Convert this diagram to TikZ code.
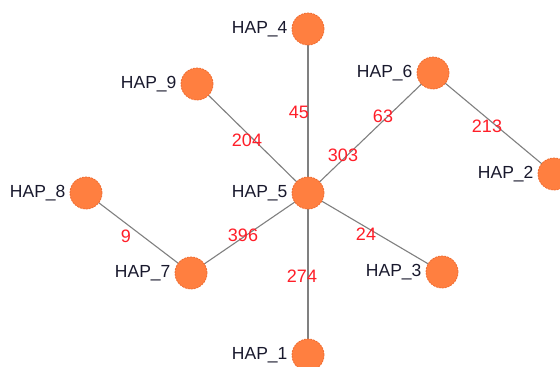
\documentclass[tikz,border=0pt]{standalone}
\usepackage{fontspec}
\setmainfont{Liberation Sans}
\definecolor{hapfill}{RGB}{255,127,64}
\definecolor{hapedge}{RGB}{240,108,48}
\definecolor{linkgray}{RGB}{128,128,128}
\definecolor{txtdark}{RGB}{25,25,45}
\definecolor{wred}{RGB}{255,30,40}
\tikzset{
  hap/.style={circle, minimum size=32pt, inner sep=0pt, fill=hapfill,
    draw=hapedge, line width=0.8pt, dash pattern=on 2pt off 1pt,
    label={[label distance=4pt, inner sep=0pt, text=txtdark,
      font=\fontsize{17.5}{20}\selectfont]left:#1}},
  link/.style={draw=linkgray, line width=1.1pt},
  weight/.style={text=wred, inner sep=0pt, font=\fontsize{18}{20}\selectfont}
}
\begin{document}
\begin{tikzpicture}[x=1pt, y=-1pt]
  \useasboundingbox[fill=white] (0,0) rectangle (560,367);
  % haplotype positions
  \coordinate (p4) at (308,29);
  \coordinate (p9) at (197,84);
  \coordinate (p6) at (433,73);
  \coordinate (p2) at (554,174);
  \coordinate (p8) at (86,193);
  \coordinate (p5) at (308,193);
  \coordinate (p7) at (191,273);
  \coordinate (p3) at (442,272);
  \coordinate (p1) at (308,355);
  % links between haplotypes
  \draw[link] (p5) -- (p4);
  \draw[link] (p5) -- (p9);
  \draw[link] (p5) -- (p6);
  \draw[link] (p6) -- (p2);
  \draw[link] (p8) -- (p7);
  \draw[link] (p7) -- (p5);
  \draw[link] (p5) -- (p3);
  \draw[link] (p5) -- (p1);
  % haplotype nodes
  \node[hap=HAP\_4] (h4) at (p4) {};
  \node[hap=HAP\_9] (h9) at (p9) {};
  \node[hap=HAP\_6] (h6) at (p6) {};
  \node[hap=HAP\_2] (h2) at (p2) {};
  \node[hap=HAP\_8] (h8) at (p8) {};
  \node[hap=HAP\_5] (h5) at (p5) {};
  \node[hap=HAP\_7] (h7) at (p7) {};
  \node[hap=HAP\_3] (h3) at (p3) {};
  \node[hap=HAP\_1] (h1) at (p1) {};
  % link weights
  \node[weight] (w45)  at (299,112) {45};
  \node[weight] (w204) at (247,140) {204};
  \node[weight] (w63)  at (383,116) {63};
  \node[weight] (w303) at (343,155) {303};
  \node[weight] (w213) at (487,126) {213};
  \node[weight] (w9)   at (126,236) {9};
  \node[weight] (w396) at (243,235) {396};
  \node[weight] (w24)  at (366,234) {24};
  \node[weight] (w274) at (302,276) {274};
\end{tikzpicture}
\end{document}
